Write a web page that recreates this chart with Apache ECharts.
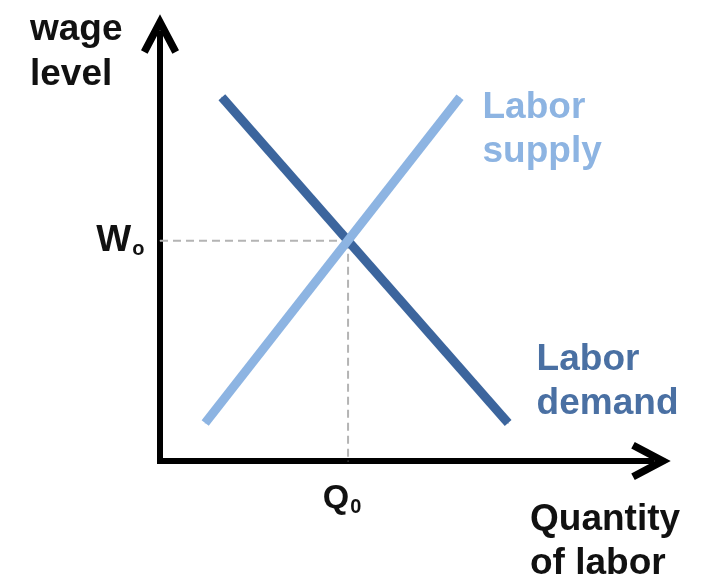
<!DOCTYPE html>
<html>
<head>
<meta charset="utf-8">
<title>Labor market</title>
<script src="https://cdn.jsdelivr.net/npm/echarts@6/dist/echarts.min.js"></script>
<style>
  html, body { margin: 0; padding: 0; background: #fff; }
  #chart { width: 710px; height: 583px; }
</style>
</head>
<body>
<div id="chart"></div>
<script>
// end points of the two curves (quantity, wage), axes run 0..10
const demandQ = [1.26, 7.09];
const demandW = [8.52, 0.89];
const supplyQ = [0.92, 6.11];
const supplyW = [0.89, 8.52];
// equilibrium
const eqQ = 3.83;
const eqW = 5.16;

const font = "'Liberation Sans', Arial, sans-serif";
const demandColor = '#3c659d';
const supplyColor = '#8db4e2';
// open arrow head, drawn pointing up
const arrowHead = 'path://M19,0 L38,36 L31.4,39.5 L19,16 L6.6,39.5 L0,36 Z';

const toPairs = (xs, ys) => xs.map((x, i) => [x, ys[i]]);

const axisCommon = {
    type: 'value',
    min: 0,
    max: 10,
    axisLabel: { show: false },
    axisTick: { show: false },
    splitLine: { show: false },
    axisLine: {
        show: true,
        onZero: false,
        symbol: ['none', arrowHead],
        symbolSize: [38, 39.5],
        lineStyle: { color: '#000', width: 6, cap: 'square' }
    }
};

const chart = echarts.init(document.getElementById('chart'));
chart.setOption({
    animation: false,
    backgroundColor: '#fff',
    title: [
        {
            text: 'wage\nlevel',
            left: 30, top: 7, padding: 0,
            textStyle: { fontFamily: font, fontSize: 37, fontWeight: 'bold', color: '#111', lineHeight: 45 }
        },
        {
            text: 'Quantity\nof labor',
            left: 530, top: 498, padding: 0,
            textStyle: { fontFamily: font, fontSize: 37, fontWeight: 'bold', color: '#111', lineHeight: 44 }
        }
    ],
    grid: { left: 160, right: 59, top: 34, bottom: 122 },
    xAxis: axisCommon,
    yAxis: axisCommon,
    series: [
        {
            // dashed guide to wage axis
            type: 'line',
            z: 1,
            symbol: 'circle', symbolSize: 1,
            lineStyle: { color: '#b4b4b4', width: 2, type: [8, 5] },
            itemStyle: { color: '#b4b4b4' },
            data: [
                { value: [0, eqW], label: {
                    show: true, position: 'left', distance: 15,
                    formatter: '{w|W}{s|o}',
                    rich: {
                        w: { fontFamily: font, fontSize: 37, fontWeight: 'bold', color: '#111' },
                        s: { fontFamily: font, fontSize: 20, fontWeight: 'bold', color: '#111', padding: [18, 0, 0, 1] }
                    }
                } },
                [eqQ, eqW]
            ]
        },
        {
            // dashed guide to quantity axis
            type: 'line',
            z: 1,
            symbol: 'circle', symbolSize: 1,
            lineStyle: { color: '#b4b4b4', width: 2, type: [8, 5] },
            itemStyle: { color: '#b4b4b4' },
            data: [
                [eqQ, eqW],
                { value: [eqQ, 0], label: {
                    show: true, position: 'bottom', distance: 18, offset: [-6, 0],
                    formatter: '{w|Q}{s|0}',
                    rich: {
                        w: { fontFamily: font, fontSize: 34, fontWeight: 'bold', color: '#111' },
                        s: { fontFamily: font, fontSize: 20, fontWeight: 'bold', color: '#111', padding: [18, 0, 0, 1] }
                    }
                } }
            ]
        },
        {
            name: 'Labor supply',
            type: 'line',
            z: 3,
            symbol: 'circle', symbolSize: 1,
            lineStyle: { color: supplyColor, width: 9 },
            itemStyle: { color: supplyColor },
            data: toPairs(supplyQ, supplyW).map((p, i) => i === supplyQ.length - 1 ? {
                value: p,
                label: {
                    show: true, position: 'right', distance: 22, offset: [0, 33],
                    formatter: 'Labor\nsupply',
                    fontFamily: font, fontSize: 37, fontWeight: 'bold', lineHeight: 44, color: supplyColor
                }
            } : p)
        },
        {
            name: 'Labor demand',
            type: 'line',
            z: 2,
            symbol: 'circle', symbolSize: 1,
            lineStyle: { color: demandColor, width: 9 },
            itemStyle: { color: demandColor },
            data: toPairs(demandQ, demandW).map((p, i) => i === demandQ.length - 1 ? {
                value: p,
                label: {
                    show: true, position: 'right', distance: 28, offset: [0, -41],
                    formatter: 'Labor\ndemand',
                    fontFamily: font, fontSize: 37, fontWeight: 'bold', lineHeight: 44, color: '#4a70a3'
                }
            } : p)
        }
    ]
});
</script>
</body>
</html>
